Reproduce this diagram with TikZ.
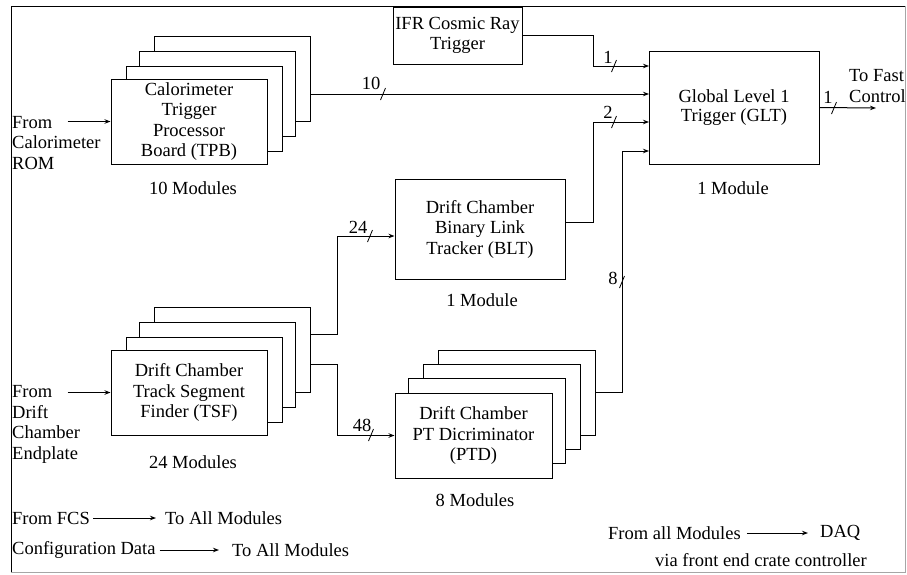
\documentclass[tikz,border=0pt]{standalone}
\usepackage{fontspec}
\setmainfont{Liberation Serif}
\usetikzlibrary{arrows.meta}
\tikzset{
  every node/.style={font=\fontsize{18.5}{20.5}\selectfont},
  ln/.style={line width=1pt},
  arr/.style={ln,-{Stealth[length=6pt,width=4.5pt]}},
  box/.style={draw,ln,fill=white,inner sep=0pt,align=center},
  modbox/.style={box,minimum width=156pt,minimum height=85pt},
  ptdbox/.style={box,minimum width=157pt,minimum height=85pt},
  txt/.style={inner sep=0pt,align=left},
  busmark/.pic={\draw[line width=0.8pt] (-2.5,6) -- (2.5,-6);}
}
\begin{document}
\begin{tikzpicture}[x=1pt,y=-1pt]
\useasboundingbox (0,0) rectangle (907,574);
% frame
\draw[ln] (905,6) -- (11,6) -- (11,572);
\draw[line width=1pt,gray!70] (11,572) -- (905,572) -- (905,6);

% TPB stack
\node[modbox] (tpb4) at (232,78.5) {};
\node[modbox] (tpb3) at (217,93.5) {};
\node[modbox] (tpb2) at (204,108.5) {};
\node[modbox] (tpb1) at (189,121.5) {Calorimeter\\Trigger\\Processor\\Board (TPB)};
\node (tpbm) at (193,188) {10 Modules};

% TSF stack
\node[modbox] (tsf4) at (232,349.5) {};
\node[modbox] (tsf3) at (217,364.5) {};
\node[modbox] (tsf2) at (204,379.5) {};
\node[modbox] (tsf1) at (189,392.5) {Drift Chamber\\Track Segment\\Finder (TSF)};
\node (tsfm) at (193,462) {24 Modules};

% PTD stack
\node[ptdbox] (ptd4) at (516.5,392.5) {};
\node[ptdbox] (ptd3) at (501.5,406.5) {};
\node[ptdbox] (ptd2) at (486.5,420.5) {};
\node[ptdbox] (ptd1) at (473.5,435.5) {Drift Chamber\\PT Dicriminator\\(PTD)};
\node (ptdm) at (475,500) {8 Modules};

% BLT
\node[box,minimum width=170pt,minimum height=100pt] (blt) at (480,229) {Drift Chamber\\Binary Link\\Tracker (BLT)};
\node (bltm) at (482,300) {1 Module};

% IFR
\node[box,minimum width=129pt,minimum height=57pt] (ifr) at (457.5,35.5) {IFR Cosmic Ray\\Trigger};

% GLT
\node[box,minimum width=170pt,minimum height=113pt,font=\fontsize{18.5}{19}\selectfont] (glt) at (734,107.5) {Global Level 1\\Trigger (GLT)};
\node (gltm) at (733,188) {1 Module};

\coordinate (gin1) at (649,66);
\coordinate (gin2) at (649,94);
\coordinate (gin3) at (649,122);
\coordinate (gin4) at (649,151);
\coordinate (gout) at (876,108);

% connectors
\draw[arr] (ifr.east) -- ++(71,0) |- (gin1);
\draw[arr] (tpb4.east |- gin2) -- (gin2);
\draw[arr] ([yshift=7pt]blt.east) -- ++(28,0) |- (gin3);
\draw[arr] (ptd4.east) -- ++(27,0) |- (gin4);
\draw[arr] (glt.east) -- (gout);
\draw[arr] ([yshift=15.5pt]tsf4.east) -- ++(27,0) |- ([yshift=-7pt]blt.west);
\draw[arr] ([yshift=-14.5pt]tsf4.east) -- ++(27,0) |- (ptd1.west);
\draw[arr] ([xshift=-43pt]tpb1.west) -- (tpb1.west);
\draw[arr] ([xshift=-43pt]tsf1.west) -- (tsf1.west);

% bus marks and labels
\pic at (383,94) {busmark};   \node[inner sep=0pt] (l10) at (371,83) {10};
\pic at (614,66) {busmark};   \node[inner sep=0pt] (l1a) at (608,57) {1};
\pic at (614,122) {busmark};  \node[inner sep=0pt] (l2) at (608,112) {2};
\pic at (834,108) {busmark};  \node[inner sep=0pt] (l1b) at (828,97) {1};
\pic at (370,236) {busmark};  \node[inner sep=0pt] (l24) at (358,227) {24};
\pic at (371,435) {busmark};  \node[inner sep=0pt] (l48) at (362,425) {48};
\pic at (622,282) {busmark};  \node[inner sep=0pt] (l8) at (613,278) {8};

% side texts
\node[txt,anchor=west] (fcal) at (12,143) {From\\Calorimeter\\ROM};
\node[txt,anchor=west] (fdc) at (12,424.5) {From\\Drift\\Chamber\\Endplate};
\node[txt,anchor=west] (tfc) at (849,86) {To Fast\\Control};

% bottom legend
\node[txt,anchor=west] (fcs) at (12,518) {From FCS};
\node[txt,anchor=west] (all1) at (165,518) {To All Modules};
\draw[arr] ([xshift=3pt]fcs.east) -- ([xshift=-9pt]all1.west);
\node[txt,anchor=west] (cfg) at (12,550) {Configuration Data};
\node[txt,anchor=west] (all2) at (232,550) {To All Modules};
\draw[arr] ([xshift=4pt]cfg.east) -- ([xshift=-13pt]all2.west);
\node[txt,anchor=west] (fam) at (608,533) {From all Modules};
\node[txt,anchor=west] (daq) at (820,533) {DAQ};
\draw[arr] ([xshift=6pt]fam.east) -- ([xshift=-12pt]daq.west);
\node[txt,anchor=west] (via) at (655,560) {via front end crate controller};
\end{tikzpicture}
\end{document}
